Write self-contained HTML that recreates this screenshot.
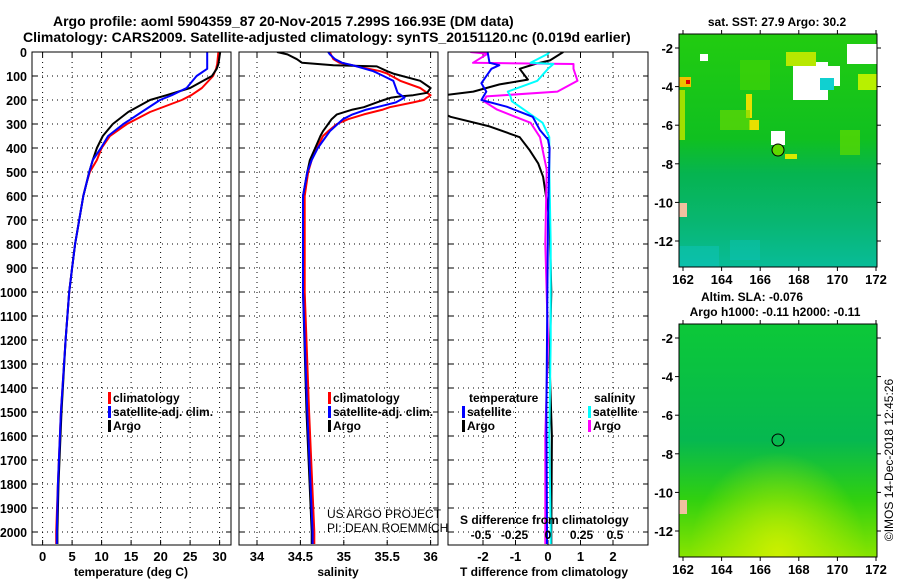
<!DOCTYPE html>
<html><head><meta charset="utf-8"><style>
html,body{margin:0;padding:0;background:#fff;}
svg{display:block;font-family:"Liberation Sans",Arial,sans-serif;}
.b{font-weight:bold;}
</style></head><body>
<svg id="c" width="900" height="580" viewBox="0 0 900 580" xmlns="http://www.w3.org/2000/svg">
<defs>
<linearGradient id="sstg" x1="0" y1="0" x2="0" y2="1">
<stop offset="0" stop-color="#22cc10"/><stop offset="0.45" stop-color="#10c020"/><stop offset="0.6" stop-color="#06b450"/><stop offset="0.8" stop-color="#08b670"/><stop offset="1" stop-color="#08bc98"/></linearGradient>
<linearGradient id="slag" x1="0" y1="0" x2="0" y2="1">
<stop offset="0" stop-color="#0cc838"/><stop offset="0.5" stop-color="#06b850"/><stop offset="0.75" stop-color="#30d010"/><stop offset="1" stop-color="#88e400"/></linearGradient>
<radialGradient id="slay" cx="0.5" cy="1" r="0.45"><stop offset="0" stop-color="#ccf000"/><stop offset="1" stop-color="#ccf000" stop-opacity="0"/></radialGradient>
</defs>
<text x="53" y="26" font-size="14" class="b">Argo profile: aoml 5904359_87 20-Nov-2015 7.299S 166.93E (DM data)</text>
<text x="23" y="42" font-size="14" class="b">Climatology: CARS2009. Satellite-adjusted climatology: synTS_20151120.nc (0.019d earlier)</text>
<g id="plots"></g>
<g id="maps">
<text x="777" y="26" font-size="12" class="b" text-anchor="middle">sat. SST: 27.9 Argo: 30.2</text>
<rect x="679" y="34" width="198" height="233" fill="url(#sstg)"/>
<g>
<rect x="793" y="62" width="35" height="38" fill="#fff"/><rect x="820" y="66" width="20" height="20" fill="#fff"/>
<rect x="847" y="44" width="30" height="20" fill="#fff"/><rect x="700" y="54" width="8" height="7" fill="#fff"/>
<rect x="771" y="131" width="14" height="14" fill="#fff"/>
<rect x="679" y="77" width="12" height="10" fill="#f0c000"/><rect x="686" y="80" width="4" height="4" fill="#e00000"/>
<rect x="746" y="94" width="6" height="24" fill="#e8e000"/><rect x="749" y="120" width="10" height="10" fill="#e8e000"/>
<rect x="786" y="52" width="30" height="14" fill="#b8e800"/><rect x="858" y="74" width="19" height="16" fill="#b8f000"/>
<rect x="785" y="154" width="12" height="5" fill="#d8ea00"/><rect x="840" y="130" width="20" height="25" fill="#60dc00" opacity="0.7"/>
<rect x="679" y="90" width="6" height="50" fill="#a0e000"/>
<rect x="720" y="110" width="30" height="20" fill="#70dc00" opacity="0.6"/>
<rect x="740" y="60" width="30" height="30" fill="#50d800" opacity="0.5"/>
<rect x="679" y="246" width="40" height="21" fill="#10c8d0" opacity="0.35"/>
<rect x="730" y="240" width="30" height="20" fill="#10c8d0" opacity="0.3"/>
<rect x="820" y="78" width="14" height="12" fill="#10d0d0"/>
<rect x="679" y="203" width="8" height="14" fill="#f0c0a0"/>
</g>
<rect x="679" y="34" width="198" height="233" fill="none" stroke="#000"/>
<circle cx="778" cy="150" r="6" fill="#60d800" stroke="#000"/>
<text x="752" y="301" font-size="12" class="b" text-anchor="middle">Altim. SLA: -0.076</text>
<text x="775" y="316" font-size="12" class="b" text-anchor="middle">Argo h1000: -0.11 h2000: -0.11</text>
<rect x="679" y="324" width="198" height="233" fill="url(#slag)"/>
<rect x="679" y="324" width="198" height="233" fill="url(#slay)"/>
<rect x="679" y="500" width="8" height="14" fill="#f0c0a0"/>
<rect x="679" y="324" width="198" height="233" fill="none" stroke="#000"/>
<circle cx="778" cy="440" r="6" fill="none" stroke="#000"/>
<text transform="translate(893,460) rotate(-90)" font-size="12" text-anchor="middle">©IMOS 14-Dec-2018 12:45:26</text>
</g>
</svg>
<script>
// depth grid
const depthTicks=[0,100,200,300,400,500,600,700,800,900,1000,1100,1200,1300,1400,1500,1600,1700,1800,1900,2000];
// temperature panel
const tempTicks=[0,5,10,15,20,25,30];
const tDepth=[0,50,70,100,150,180,200,250,300,350,400,450,500,550,600,700,800,900,1000,1200,1500,1800,2000,2050];
const tClim=[29.8,29.6,29.4,28.9,27.0,25.2,23.6,18.2,14.3,11.4,10.0,9.2,8.0,7.4,6.9,6.2,5.5,5.0,4.5,3.9,3.1,2.6,2.3,2.3];
const tSat=[27.9,27.9,27.9,26.1,24.4,21.9,19.9,16.8,13.7,11.1,9.9,8.5,7.9,7.4,6.9,6.2,5.5,5.0,4.5,3.9,3.1,2.6,2.4,2.4];
const tArgo=[30.1,29.8,29.5,28.7,25.0,21.0,18.2,14.5,11.9,10.2,9.2,8.5,7.9,7.4,6.9,6.2,5.5,5.0,4.5,3.9,3.2,2.7,2.5,2.5];
// salinity panel
const salTicks=[34,34.5,35,35.5,36];
const salTickLabels=["34","34.5","35","35.5","36"];
const sDepth=[0,10,30,45,55,60,80,90,120,150,170,180,185,190,200,210,230,240,260,280,300,330,350,400,450,500,600,1000,1500,2000,2050];
const sClim=[34.84,34.85,34.88,34.95,35.1,35.15,35.42,35.5,35.65,35.88,35.96,36.0,35.98,35.96,35.92,35.8,35.53,35.45,35.23,35.05,34.92,34.82,34.76,34.69,34.63,34.59,34.55,34.55,34.6,34.66,34.66];
const sSat=[34.82,34.84,34.9,34.98,35.1,35.15,35.34,35.4,35.57,35.6,35.62,35.66,35.68,35.7,35.65,35.6,35.38,35.26,35.1,34.99,34.93,34.84,34.8,34.70,34.63,34.58,34.53,34.53,34.58,34.64,34.64];
const sArgo=[34.23,34.35,34.46,34.52,34.88,35.38,35.5,35.57,35.88,36.0,35.96,35.8,35.65,35.55,35.46,35.38,35.23,35.1,34.92,34.86,34.82,34.76,34.73,34.67,34.61,34.58,34.53,34.53,34.57,34.63,34.63];
// difference panel
const dTTicks=[-2,-1,0,1,2];
const dSTicks=[-0.5,-0.25,0,0.25,0.5];
const dSTickLabels=["-0.5","-0.25","0","0.25","0.5"];
const dDepthA=[0,35,50,70,115,135,165,185,230,270,310,355,410,465,520,700,1000,1300,1600,2000,2050];
const dTArgo=[0.47,0.06,-0.4,-0.87,-0.62,-1.49,-2.3,-3.5,-3.6,-3.0,-1.8,-0.87,-0.56,-0.3,-0.15,0.05,0.1,0.05,0.12,0.1,0.1];
const dDepthB=[0,45,55,70,130,165,200,228,270,325,365,400,700,1000,1500,2000,2050];
const dTSat=[-1.86,-1.8,-1.5,-1.74,-2.05,-1.9,-2.05,-1.27,-0.47,-0.25,0.0,0.05,0.0,-0.02,-0.05,-0.03,-0.03];
const dDepthC=[0,7,45,50,70,120,165,185,205,240,295,355,490,800,1200,1600,2000,2050];
const dSArgo=[-0.58,-0.45,-0.56,0.19,0.19,0.22,0.07,-0.46,-0.48,-0.38,-0.13,-0.06,-0.01,-0.02,0.0,-0.02,-0.02,-0.02];
const dSSat=[0.01,0.0,-0.13,0.04,0.0,-0.08,-0.3,-0.28,-0.27,-0.18,-0.04,0.01,0.01,0.02,0.02,0.01,0.02,0.02];

const NS='http://www.w3.org/2000/svg';
const root=document.getElementById('plots');
function mk(tag,attrs,parent){const e=document.createElementNS(NS,tag);for(const k in attrs)e.setAttribute(k,attrs[k]);(parent||root).appendChild(e);return e;}
const Y0=52,YB=545;
function yD(d){return Y0+d*0.24;}
const panels=[{x0:32,x1:231},{x0:239,x1:438},{x0:448,x1:648}];
function xT(t){return 42.6+t*5.9;}
function xS(s){return 257+(s-34)*86.8;}
function xDT(t){return 548+t*32.5;}
function xDS(s){return 548+s*134;}

// depth labels
depthTicks.forEach(d=>{
  const t=mk('text',{x:27,y:yD(d)+5,'font-size':12.5,'font-weight':'bold','text-anchor':'end'});
  if(d>=1000){t.setAttribute('textLength','27');t.setAttribute('lengthAdjust','spacingAndGlyphs');}
  
  
  t.textContent=d;
});

function panel(i,name,xs,xf){
  const p=panels[i];
  const g=mk('g',{'clip-path':'url(#clip'+i+')'});
  
  
  const cp=mk('clipPath',{id:'clip'+i});
  mk('rect',{x:p.x0,y:Y0,width:p.x1-p.x0,height:YB-Y0},cp);
  depthTicks.forEach(d=>{
    const l=mk('line',{x1:p.x0,x2:p.x1,y1:yD(d),y2:yD(d),stroke:'#000','stroke-width':1,'stroke-dasharray':'1 4'},g);
    
    
    mk('line',{x1:p.x0,x2:p.x0+5,y1:yD(d),y2:yD(d),stroke:'#000'},g);
    mk('line',{x1:p.x1-5,x2:p.x1,y1:yD(d),y2:yD(d),stroke:'#000'},g);
  });
  xs.forEach(v=>{
    const l=mk('line',{x1:xf(v),x2:xf(v),y1:Y0,y2:YB,stroke:'#000','stroke-width':1,'stroke-dasharray':'1 4'},g);
    
    
    mk('line',{x1:xf(v),x2:xf(v),y1:Y0,y2:Y0+5,stroke:'#000'},g);
    mk('line',{x1:xf(v),x2:xf(v),y1:YB-5,y2:YB,stroke:'#000'},g);
  });
  const fr=mk('rect',{x:p.x0,y:Y0,width:p.x1-p.x0,height:YB-Y0,fill:'none',stroke:'#000'});
  
  
  return g;
}
function line(g,xf,vals,deps,color,name,w){
  const pts=vals.map((v,k)=>xf(v).toFixed(1)+','+yD(deps[k]).toFixed(1)).join(' ');
  const pl=mk('polyline',{points:pts,fill:'none',stroke:color,'stroke-width':w||2,'stroke-linejoin':'round'},g);
  
  
}
function xlabels(vals,labels,xf,y,name,size){
  vals.forEach((v,k)=>{
    const t=mk('text',{x:xf(v),y:y,'font-size':size||13,'font-weight':'bold','text-anchor':'middle'});
    
    
    t.textContent=labels[k];
  });
}
function txt(x,y,s,name,opts){
  const t=mk('text',Object.assign({x:x,y:y,'font-size':12,'font-weight':'bold'},opts||{}));
  
  
  t.textContent=s;return t;
}
function legend(x,y,color,label,name){
  const r=mk('rect',{x:x,y:y-10,width:3,height:12,fill:color});
  
  
  txt(x+5,y,label,name);
}

// panel 1
const g1=panel(0,'temperature',tempTicks,xT);
line(g1,xT,tClim,tDepth,'#f00','temperature-climatology-line');
line(g1,xT,tArgo,tDepth,'#000','temperature-argo-line');
line(g1,xT,tSat,tDepth,'#00f','temperature-satellite-line');
xlabels(tempTicks,tempTicks.map(String),xT,561,'temperature-tick-label');
txt(131,576,'temperature (deg C)','temperature-axis-title',{'text-anchor':'middle'});
legend(108,402,'#f00','climatology','legend-climatology');
legend(108,416,'#00f','satellite-adj. clim.','legend-satellite-adj');
legend(108,430,'#000','Argo','legend-argo');

// panel 2
const g2=panel(1,'salinity',salTicks,xS);
line(g2,xS,sClim,sDepth,'#f00','salinity-climatology-line');
line(g2,xS,sArgo,sDepth,'#000','salinity-argo-line');
line(g2,xS,sSat,sDepth,'#00f','salinity-satellite-line');
xlabels(salTicks,salTickLabels,xS,561,'salinity-tick-label');
txt(338,576,'salinity','salinity-axis-title',{'text-anchor':'middle'});
legend(328,402,'#f00','climatology','legend-climatology');
legend(328,416,'#00f','satellite-adj. clim.','legend-satellite-adj');
legend(328,430,'#000','Argo','legend-argo');
txt(327,518,'US ARGO PROJECT','project-credit',{'font-weight':'normal','font-size':12});
txt(327,532,'PI: DEAN ROEMMICH','pi-credit',{'font-weight':'normal','font-size':12});

// panel 3
const g3=panel(2,'difference',dTTicks,xDT);
line(g3,xDT,dTArgo,dDepthA,'#000','t-diff-argo-line');
line(g3,xDS,dSArgo,dDepthC,'#f0f','s-diff-argo-line');
line(g3,xDS,dSSat,dDepthC,'#0ff','s-diff-satellite-line');
line(g3,xDT,dTSat,dDepthB,'#00f','t-diff-satellite-line');
xlabels(dTTicks,dTTicks.map(String),xDT,561,'t-diff-tick-label');
txt(544,576,'T difference from climatology','t-diff-axis-title',{'text-anchor':'middle'});
txt(460,524,'S difference from climatology','s-diff-axis-title');
xlabels(dSTicks,dSTickLabels,xDS,539,'s-diff-tick-label',12);
txt(469,402,'temperature','legend-temperature-header');
legend(462,416,'#00f','satellite','legend-t-satellite');
legend(462,430,'#000','Argo','legend-t-argo');
txt(594,402,'salinity','legend-salinity-header');
legend(588,416,'#0ff','satellite','legend-s-satellite');
legend(588,430,'#f0f','Argo','legend-s-argo');

// map axes
const mapLon=[162,164,166,168,170,172];
const mapLat=[-2,-4,-6,-8,-10,-12];
const svg=document.getElementById('c');
[[34,267,48],[324,557,338]].forEach(([top,bot,lat0],m)=>{
  mapLon.forEach(lo=>{
    const x=683+(lo-162)*19.3;
    mk('line',{x1:x,x2:x,y1:top-4,y2:top,stroke:'#000'},svg);
    mk('line',{x1:x,x2:x,y1:bot,y2:bot+4,stroke:'#000'},svg);
    const t=mk('text',{x:x,y:bot+17,'font-size':13,'font-weight':'bold','text-anchor':'middle'},svg);
    
    
    t.textContent=lo;
  });
  mapLat.forEach(la=>{
    const y=lat0+(-2-la)*19.3;
    mk('line',{x1:675,x2:679,y1:y,y2:y,stroke:'#000'},svg);
    mk('line',{x1:877,x2:881,y1:y,y2:y,stroke:'#000'},svg);
    const t=mk('text',{x:673,y:y+5,'font-size':13,'font-weight':'bold','text-anchor':'end'},svg);
    
    
    t.textContent=la;
  });
});
</script>
</body></html>
